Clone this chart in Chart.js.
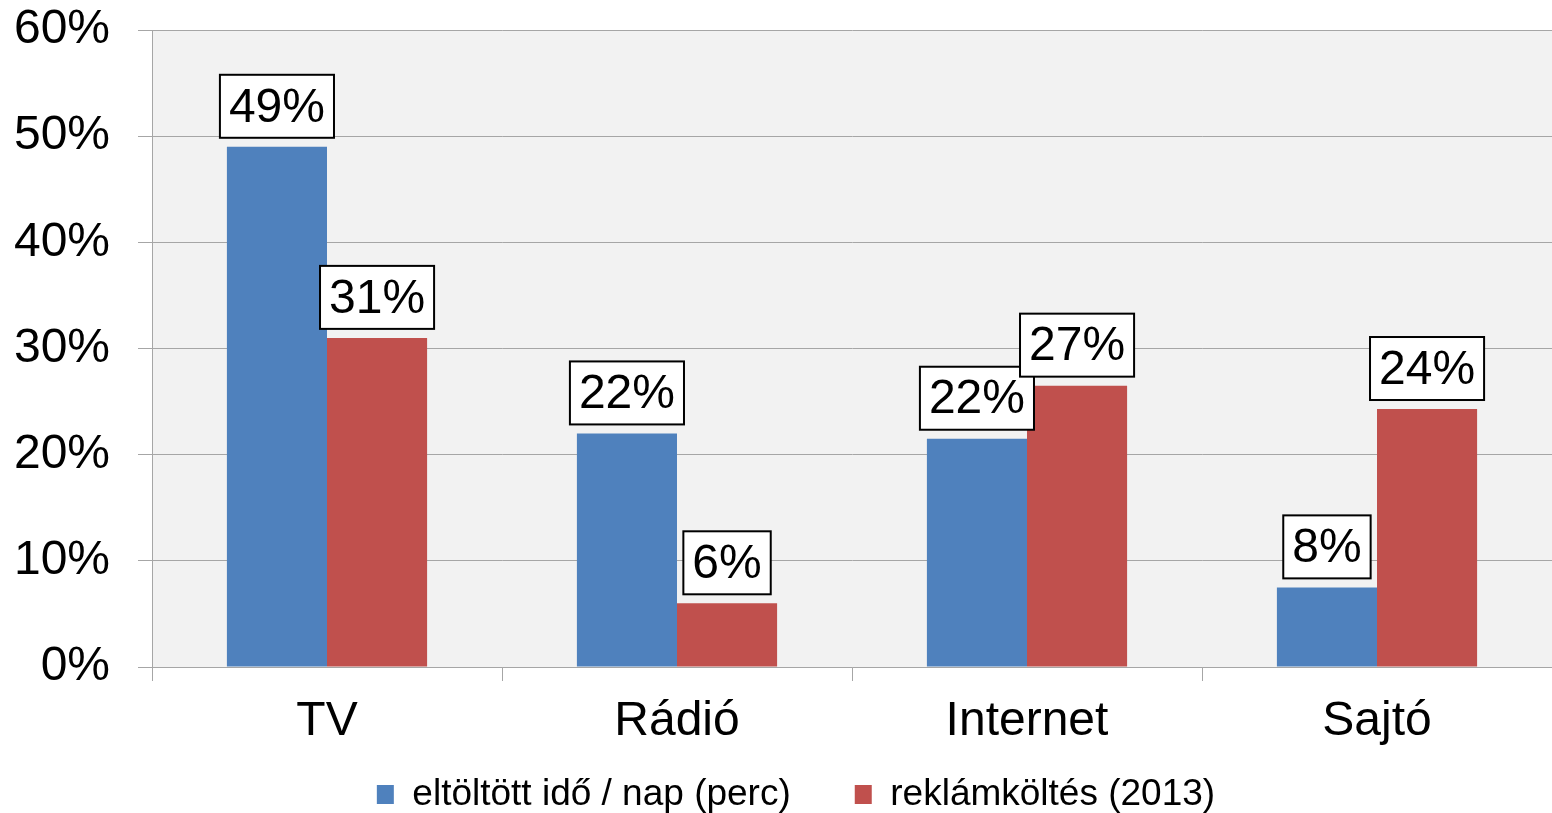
<!DOCTYPE html>
<html>
<head>
<meta charset="utf-8">
<script src="https://cdn.jsdelivr.net/npm/chart.js@4/dist/chart.umd.min.js"></script>
<style>
html,body{margin:0;padding:0;background:#fff;}
#wrap{width:1552px;height:813px;}
</style>
</head>
<body>
<div id="wrap"><canvas id="c" width="1552" height="813"></canvas></div>
<script>
const categories = ['TV', 'Rádió', 'Internet', 'Sajtó'];
const seriesNames = ['eltöltött idő / nap (perc)', 'reklámköltés (2013)'];
const timeSpent = [49, 22, 21.5, 7.5];
const adSpend = [31, 6, 26.5, 24.3];
const yTicks = [0, 10, 20, 30, 40, 50, 60];

const FONT = "'Liberation Sans', Arial, sans-serif";
const GRID = '#a6a6a6';

const plotBg = {
  id: 'plotBg',
  beforeDraw(chart) {
    const a = chart.chartArea, ctx = chart.ctx;
    ctx.save();
    ctx.fillStyle = '#f2f2f2';
    ctx.fillRect(a.left, a.top, a.right - a.left, a.bottom - a.top);
    ctx.restore();
  }
};

const boxLabels = {
  id: 'boxLabels',
  afterDatasetsDraw(chart) {
    const ctx = chart.ctx;
    ctx.save();
    ctx.font = '48px ' + FONT;
    ctx.textAlign = 'center';
    ctx.textBaseline = 'middle';
    chart.data.datasets.forEach((ds, di) => {
      const meta = chart.getDatasetMeta(di);
      meta.data.forEach((bar, i) => {
        const txt = Math.round(ds.data[i]) + '%';
        const w = ctx.measureText(txt).width + 18;
        const h = 63;
        const bottom = bar.y - 9;
        const x0 = bar.x - w / 2;
        ctx.fillStyle = '#fff';
        ctx.fillRect(x0, bottom - h, w, h);
        ctx.lineWidth = 2;
        ctx.strokeStyle = '#000';
        ctx.strokeRect(x0, bottom - h, w, h);
        ctx.fillStyle = '#000';
        ctx.fillText(txt, bar.x, bottom - h / 2 + 2);
      });
    });
    ctx.restore();
  }
};

new Chart(document.getElementById('c'), {
  type: 'bar',
  data: {
    labels: categories,
    datasets: [
      { label: seriesNames[0], data: timeSpent, backgroundColor: '#4f81bd' },
      { label: seriesNames[1], data: adSpend, backgroundColor: '#c0504d' }
    ]
  },
  options: {
    responsive: false,
    animation: false,
    devicePixelRatio: 1,
    layout: { padding: { top: 30, right: 0, left: 40, bottom: -10 } },
    datasets: { bar: { categoryPercentage: 0.572, barPercentage: 1.0 } },
    scales: {
      x: {
        grid: { drawOnChartArea: false, drawTicks: true, tickLength: 14, color: GRID, offset: true },
        border: { display: true, color: GRID, width: 1 },
        ticks: { color: '#000', font: { family: FONT, size: 48 }, padding: 12 },
        afterFit(scale) {
          scale.height = 45;
          scale._computeLabelArea = () => undefined;
        }
      },
      y: {
        min: 0, max: 60,
        afterBuildTicks(scale) { scale.ticks = yTicks.map(v => ({ value: v })); },
        grid: { color: GRID, lineWidth: 1, tickLength: 14, drawTicks: true },
        border: { display: true, color: GRID, width: 1 },
        ticks: { color: '#000', font: { family: FONT, size: 48 }, padding: 28, callback: v => v + '%' },
        afterFit(scale) {
          scale.width = 112;
          scale.paddingTop = 0;
          scale.paddingBottom = 0;
          scale._computeLabelArea = () => undefined;
        }
      }
    },
    plugins: {
      legend: {
        position: 'bottom',
        labels: {
          color: '#000',
          font: { family: FONT, size: 37 },
          boxWidth: 17, boxHeight: 19, padding: 64
        }
      },
      tooltip: { enabled: false }
    }
  },
  plugins: [plotBg, boxLabels]
});
</script>
</body>
</html>
